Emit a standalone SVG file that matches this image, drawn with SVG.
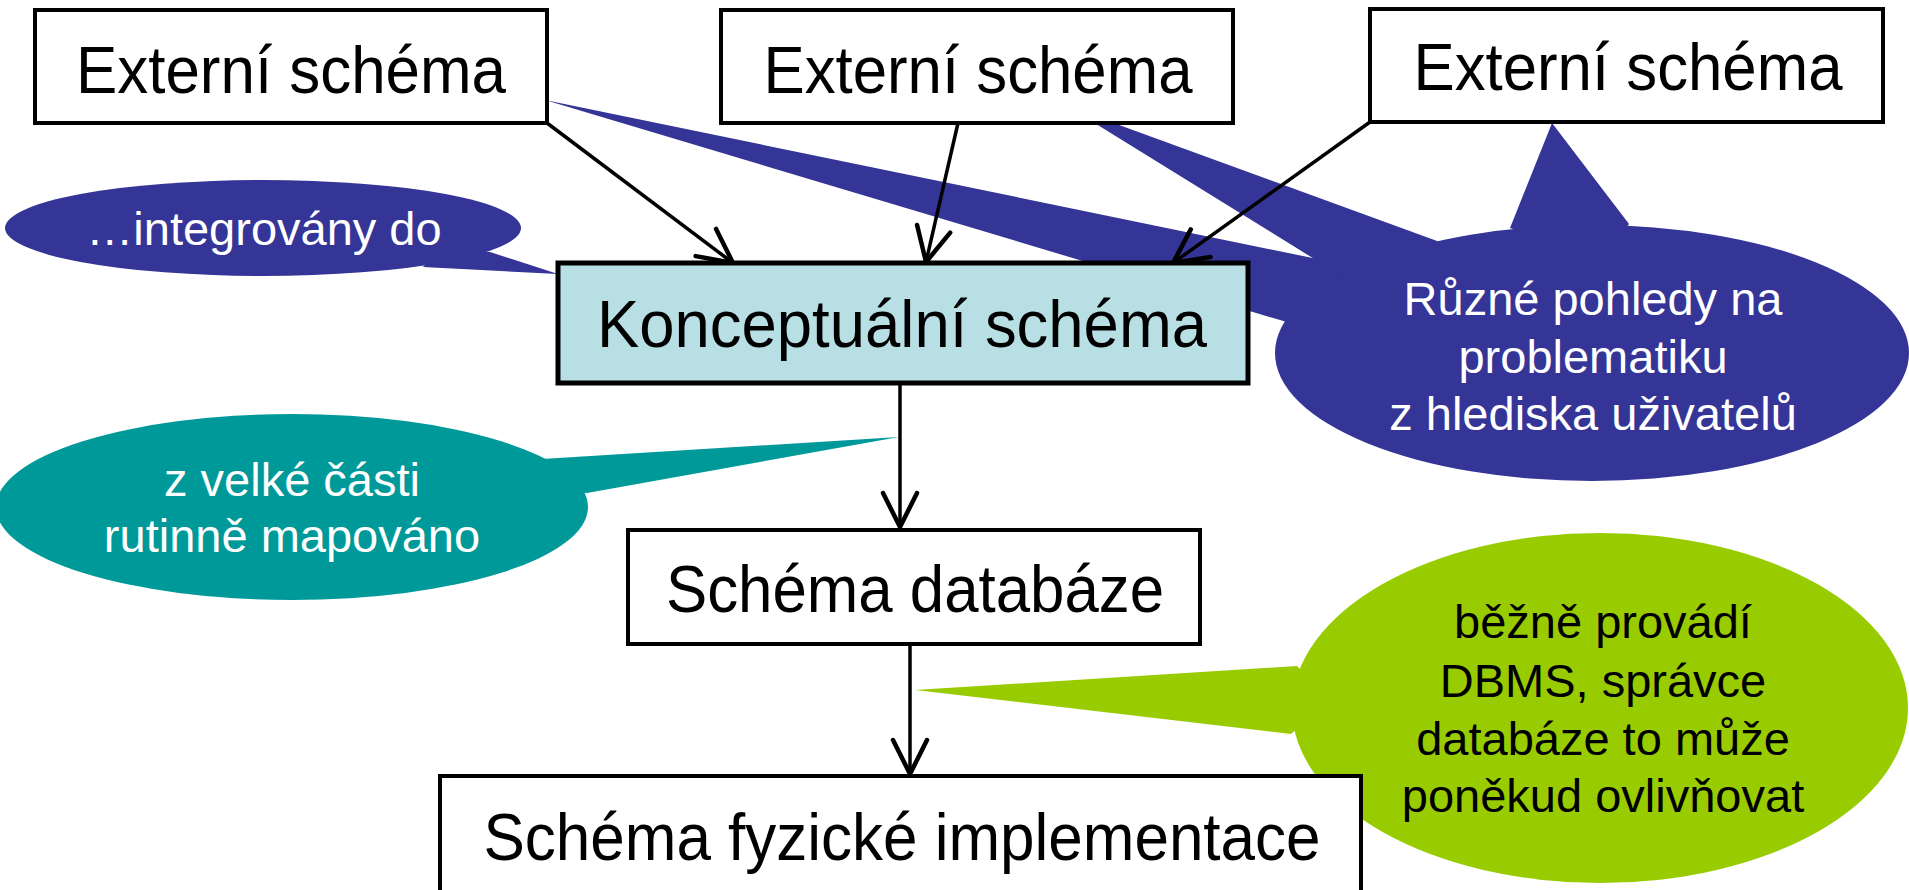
<svg xmlns="http://www.w3.org/2000/svg" width="1909" height="890" viewBox="0 0 1909 890">
  <defs>
    <style>
      .box { fill: #ffffff; stroke: #000000; stroke-width: 4; }
      .box-main { fill: #b8e0e4; stroke: #000000; stroke-width: 5; }
      .label { font-family: "Liberation Sans", Arial, sans-serif; font-size: 66px; fill: #000000; text-anchor: middle; }
      .note { font-family: "Liberation Sans", Arial, sans-serif; font-size: 47px; text-anchor: middle; }
      .note-light { fill: #ffffff; }
      .note-dark { fill: #000000; }
      .navy { fill: #343597; }
      .teal { fill: #009999; }
      .lime { fill: #99cc00; }
      .edge { fill: none; stroke: #000000; stroke-width: 3.5; marker-end: url(#open-arrow); }
    </style>
    <marker id="open-arrow" markerUnits="userSpaceOnUse" viewBox="-40 -40 80 80" markerWidth="80" markerHeight="80" refX="0" refY="0" orient="auto">
      <path d="M-34,-17 L0,0 L-34,17" fill="none" stroke="#000000" stroke-width="4.5" stroke-linecap="round" stroke-linejoin="round"/>
    </marker>
  </defs>

  <rect width="1909" height="890" fill="#ffffff"/>

  <!-- callout: different user views (navy, with wedges reaching the external schemas) -->
  <g id="callout-views">
    <polygon class="navy" points="545,100 1400,276 1400,356"/>
    <polygon class="navy" points="1067,106 1470,253 1400,312"/>
    <polygon class="navy" points="1552,123 1629,224 1600,260 1510,228"/>
    <ellipse class="navy" cx="1592" cy="353" rx="317" ry="128"/>
    <text class="note note-light" x="1593" y="315">Různé pohledy na</text>
    <text class="note note-light" x="1593" y="373">problematiku</text>
    <text class="note note-light" x="1593" y="430">z hlediska uživatelů</text>
  </g>

  <!-- callout: integrated into -->
  <g id="callout-integrated">
    <polygon class="navy" points="490,252 558,274 423,267 440,250"/>
    <ellipse class="navy" cx="263" cy="228" rx="258" ry="48"/>
    <text class="note note-light" x="264" y="245">…integrovány do</text>
  </g>

  <!-- callout: mostly routinely mapped -->
  <g id="callout-mapped">
    <polygon class="teal" points="542,459 899,437 587,493 520,490"/>
    <ellipse class="teal" cx="292" cy="507" rx="296" ry="93"/>
    <text class="note note-light" x="292" y="496">z velké části</text>
    <text class="note note-light" x="292" y="552">rutinně mapováno</text>
  </g>

  <!-- callout: usually done by the DBMS -->
  <g id="callout-dbms">
    <polygon class="lime" points="1297,666 915,690 1291,734 1330,700"/>
    <ellipse class="lime" cx="1600" cy="708" rx="308" ry="175"/>
    <text class="note note-dark" x="1603" y="638">běžně provádí</text>
    <text class="note note-dark" x="1603" y="697">DBMS, správce</text>
    <text class="note note-dark" x="1603" y="755">databáze to může</text>
    <text class="note note-dark" x="1603" y="812">poněkud ovlivňovat</text>
  </g>

  <!-- connectors -->
  <g id="connectors">
    <line class="edge" x1="547" y1="123" x2="733" y2="263"/>
    <line class="edge" x1="958" y1="123" x2="926" y2="262"/>
    <line class="edge" x1="1370" y1="122" x2="1173" y2="263"/>
    <line class="edge" x1="900" y1="383" x2="900" y2="527"/>
    <line class="edge" x1="910" y1="644" x2="910" y2="774"/>
  </g>

  <!-- schema levels -->
  <g id="external-1">
    <rect class="box" x="35" y="10" width="512" height="113"/>
    <text class="label" x="291" y="93" textLength="430" lengthAdjust="spacingAndGlyphs">Externí schéma</text>
  </g>
  <g id="external-2">
    <rect class="box" x="721" y="10" width="512" height="113"/>
    <text class="label" x="978" y="93" textLength="429" lengthAdjust="spacingAndGlyphs">Externí schéma</text>
  </g>
  <g id="external-3">
    <rect class="box" x="1370" y="9" width="513" height="113"/>
    <text class="label" x="1628" y="90" textLength="429" lengthAdjust="spacingAndGlyphs">Externí schéma</text>
  </g>
  <g id="conceptual">
    <rect class="box-main" x="558" y="263" width="690" height="120"/>
    <text class="label" x="902" y="347" textLength="610" lengthAdjust="spacingAndGlyphs">Konceptuální schéma</text>
  </g>
  <g id="database">
    <rect class="box" x="628" y="530" width="572" height="114"/>
    <text class="label" x="915" y="612" textLength="498" lengthAdjust="spacingAndGlyphs">Schéma databáze</text>
  </g>
  <g id="physical">
    <rect class="box" x="440" y="776" width="921" height="140"/>
    <text class="label" x="902" y="860" textLength="837" lengthAdjust="spacingAndGlyphs">Schéma fyzické implementace</text>
  </g>
</svg>
